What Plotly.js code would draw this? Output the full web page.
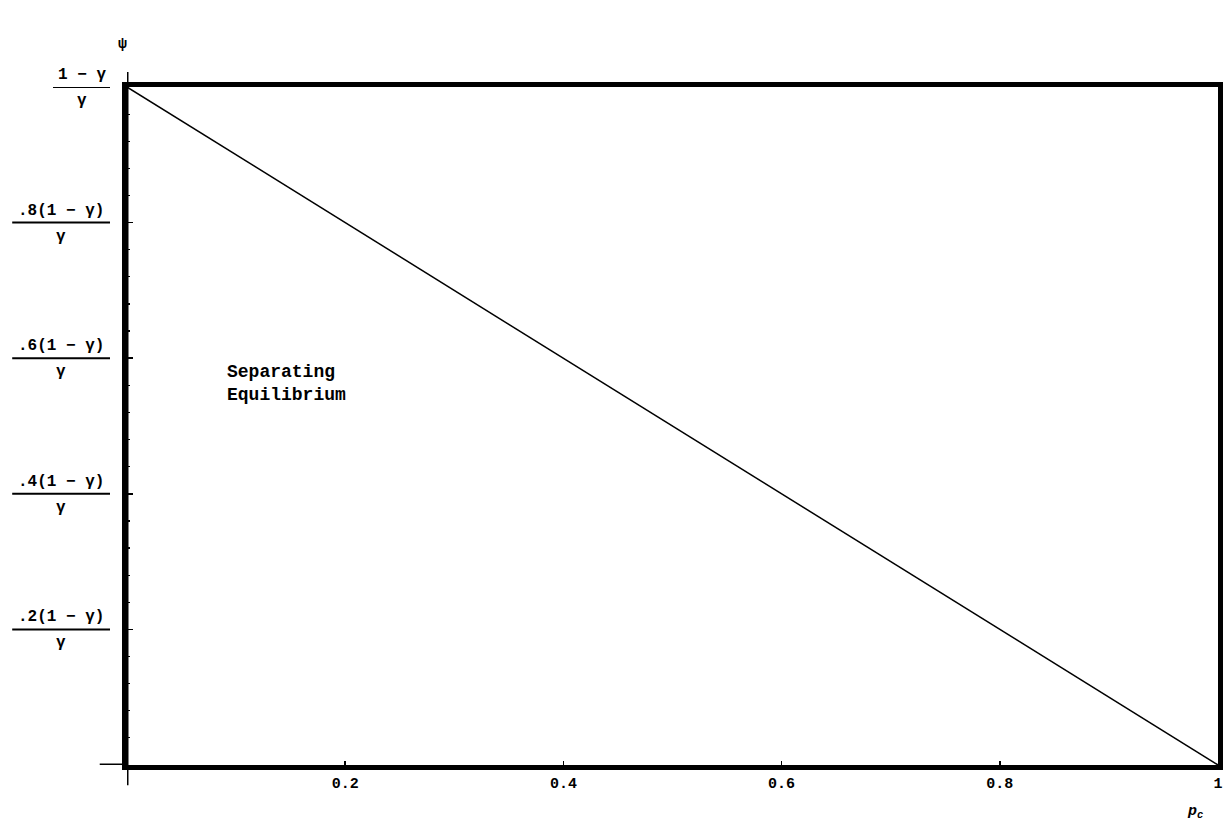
<!DOCTYPE html>
<html>
<head>
<meta charset="utf-8">
<script src="https://cdn.plot.ly/plotly-3.0.1.min.js"></script>
<style>html,body{margin:0;padding:0;background:#fff;}#chart{width:1228px;height:836px;}</style>
</head>
<body>
<div id="chart"></div>
<script>
// Boundary line between regions: psi = (1 - p_c) * (1-γ)/γ, in units of (1-γ)/γ
const pc = [0, 1];
const psi = [1, 0];

// x-axis tick values and labels
const xTickVals = [0.2, 0.4, 0.6, 0.8, 1];
const xTickText = ["0.2", "0.4", "0.6", "0.8", "1"];

// y-axis tick values and fraction labels (numerator over denominator)
const yTickVals = [0.2, 0.4, 0.6, 0.8, 1];
const yTickNum = [".2(1 − γ)", ".4(1 − γ)", ".6(1 − γ)", ".8(1 − γ)", "1 − γ"];
const yTickDen = ["γ", "γ", "γ", "γ", "γ"];

const regionLabel = "Separating<br>Equilibrium";
const regionPos = {x: 0.09, y: 0.562};

const FONT = "Liberation Mono, Courier New, monospace";
const plotW = 1228 - 127 - 10;

const annotations = [];
const shapes = [];
yTickVals.forEach((v, i) => {
  const w = yTickNum[i].length * 10.2 + 6; // px width of fraction bar
  const right = -17 / plotW;
  const left = right - w / plotW;
  const cx = (left + right) / 2;
  annotations.push({xref: 'paper', yref: 'y', x: cx, y: v, text: '<b>' + yTickNum[i] + '</b>',
    showarrow: false, xanchor: 'center', yanchor: 'bottom', yshift: 1,
    font: {family: FONT, size: 16, color: '#000'}});
  annotations.push({xref: 'paper', yref: 'y', x: cx, y: v, text: '<b>' + yTickDen[i] + '</b>',
    showarrow: false, xanchor: 'center', yanchor: 'top', yshift: -3,
    font: {family: FONT, size: 16, color: '#000'}});
  shapes.push({type: 'line', xref: 'paper', yref: 'y', x0: left, x1: right, y0: v, y1: v,
    line: {color: '#000', width: 2}});
});

annotations.push({xref: 'x', yref: 'y', x: regionPos.x, y: regionPos.y, text: '<b>' + regionLabel + '</b>',
  showarrow: false, xanchor: 'left', yanchor: 'middle', align: 'left',
  font: {family: FONT, size: 18, color: '#000'}});
annotations.push({xref: 'paper', yref: 'paper', x: -0.004, y: 1.062, text: '<b>ψ</b>',
  showarrow: false, xanchor: 'center', yanchor: 'middle',
  font: {family: FONT, size: 15, color: '#000'}});
annotations.push({xref: 'paper', yref: 'paper', x: 0.979, y: -0.069, text: '<b><i>p<sub>c</sub></i></b>',
  showarrow: false, xanchor: 'center', yanchor: 'middle',
  font: {family: FONT, size: 15, color: '#000'}});

// axis extensions beyond the frame
shapes.push({type: 'line', xref: 'x', yref: 'paper', x0: 0, x1: 0, y0: -0.03, y1: 1.022,
  line: {color: '#000', width: 3}});
shapes.push({type: 'line', xref: 'paper', yref: 'y', x0: -0.025, x1: 0, y0: 0, y1: 0,
  line: {color: '#000', width: 3}});

const trace = {x: pc, y: psi, type: 'scatter', mode: 'lines',
  line: {color: '#000', width: 1.5}, hoverinfo: 'none', showlegend: false};

const layout = {
  width: 1228, height: 836,
  margin: {l: 127, r: 10, t: 87, b: 71},
  paper_bgcolor: '#fff', plot_bgcolor: '#fff',
  showlegend: false,
  xaxis: {range: [0, 1], showgrid: false, zeroline: false,
    showline: true, linewidth: 5, linecolor: '#000', mirror: true,
    tickmode: 'array', tickvals: xTickVals, ticktext: xTickText,
    ticks: 'inside', ticklen: 4, tickwidth: 1.5, tickcolor: '#000',
    tickfont: {family: FONT, size: 15, color: '#000', weight: 'bold'}},
  yaxis: {range: [0, 1], showgrid: false, zeroline: false,
    showline: true, linewidth: 5, linecolor: '#000', mirror: true,
    tickmode: 'array', tickvals: yTickVals, showticklabels: false,
    ticks: 'inside', ticklen: 6, tickwidth: 1.5, tickcolor: '#000',
    minor: {dtick: 0.04, ticks: 'inside', ticklen: 3, tickwidth: 1.2, tickcolor: '#000', showgrid: false}},
  annotations: annotations,
  shapes: shapes
};

Plotly.newPlot('chart', [trace], layout, {staticPlot: true, displayModeBar: false});
</script>
</body>
</html>
